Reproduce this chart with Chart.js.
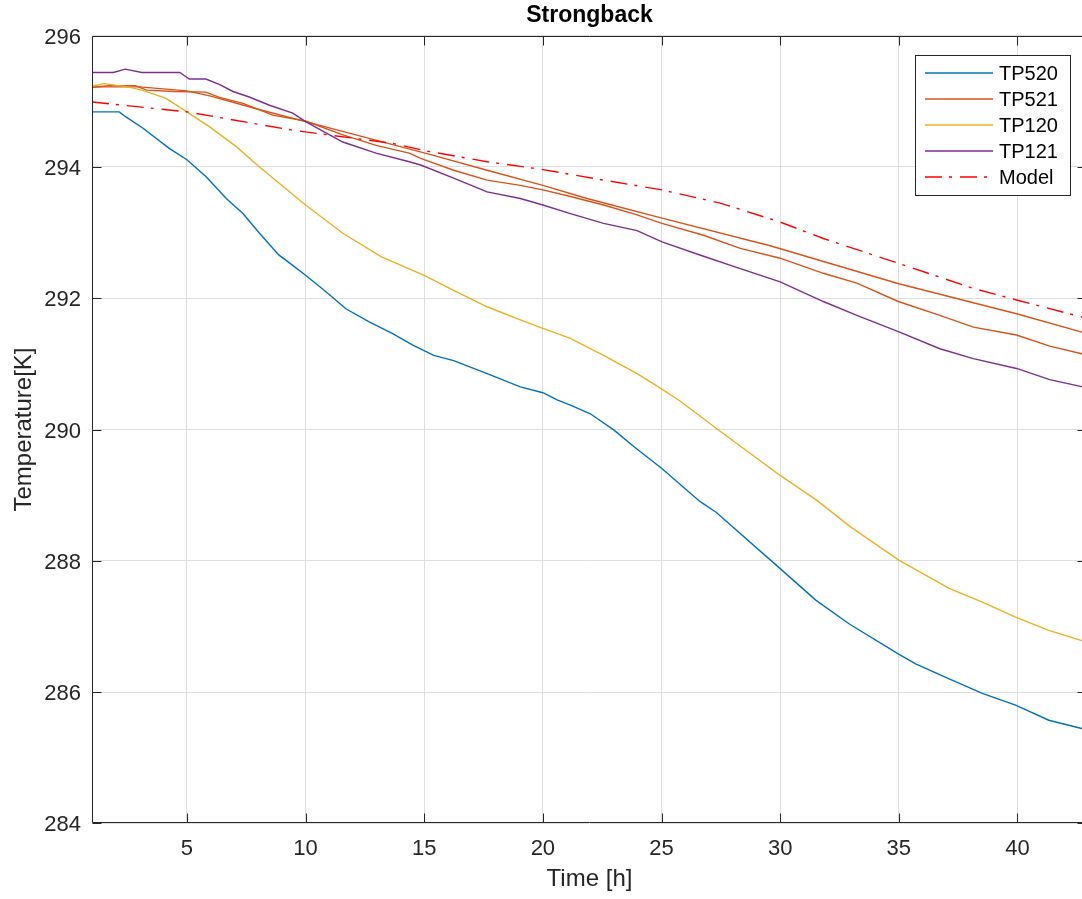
<!DOCTYPE html>
<html>
<head>
<meta charset="utf-8">
<title>Strongback</title>
<script src="https://cdn.jsdelivr.net/npm/chart.js@4/dist/chart.umd.min.js"></script>
<style>
  html, body { margin: 0; padding: 0; background: #ffffff; overflow: hidden; }
  #wrap { width: 1087px; height: 899px; }
</style>
</head>
<body>
<div id="wrap"><canvas id="chart" width="1087" height="899"></canvas></div>
<script>
// Axis tick values
const timeTicks = [5, 10, 15, 20, 25, 30, 35, 40];
const tempTicks = [284, 286, 288, 290, 292, 294, 296];

// Measured sensor temperatures [K] against time [h]
const tp520Time = [1.0, 2.15, 2.4, 3.15, 4.27, 5.0, 5.81, 6.66, 7.36, 8.06, 8.87, 9.46, 10.0, 10.86, 11.7, 12.68, 13.67, 14.5, 15.4, 16.24, 17.65, 19.05, 20.0, 20.6, 21.16, 22.0, 23.0, 23.83, 25.0, 26.63, 27.3, 30.0, 31.5, 32.9, 34.94, 35.71, 37.12, 38.52, 39.92, 41.32, 42.75];
const tp520Temp = [294.84, 294.84, 294.77, 294.59, 294.28, 294.11, 293.85, 293.52, 293.29, 292.99, 292.66, 292.50, 292.35, 292.10, 291.84, 291.64, 291.46, 291.29, 291.13, 291.05, 290.85, 290.65, 290.56, 290.45, 290.37, 290.24, 289.99, 289.74, 289.41, 288.90, 288.74, 287.88, 287.40, 287.04, 286.59, 286.43, 286.20, 285.98, 285.80, 285.57, 285.44];

const tp521Time = [1.0, 1.7, 2.83, 3.3, 4.48, 5.8, 6.37, 7.36, 8.62, 10.0, 11.57, 12.97, 14.37, 14.85, 16.24, 17.65, 19.05, 20.0, 21.16, 22.56, 23.97, 25.02, 26.77, 28.32, 30.0, 31.82, 33.23, 34.98, 36.73, 38.14, 39.96, 41.36, 42.75];
const tp521Temp = [295.21, 295.24, 295.24, 295.17, 295.15, 295.14, 295.06, 294.97, 294.79, 294.70, 294.49, 294.33, 294.21, 294.13, 293.95, 293.80, 293.72, 293.65, 293.55, 293.42, 293.27, 293.14, 292.96, 292.76, 292.61, 292.38, 292.23, 291.95, 291.74, 291.56, 291.44, 291.27, 291.15];

// Smoothed TP521 trace (drawn without a key entry)
const tp521SmoothTime = [1.0, 3.0, 5.0, 6.0, 8.0, 10.0, 12.0, 15.35, 17.65, 20.0, 21.86, 25.02, 29.58, 35.0, 40.0, 42.75];
const tp521SmoothTemp = [295.22, 295.22, 295.16, 295.08, 294.88, 294.69, 294.50, 294.18, 293.95, 293.72, 293.52, 293.22, 292.80, 292.22, 291.76, 291.48];

const tp120Time = [1.0, 1.5, 2.5, 3.1, 4.1, 5.0, 5.96, 7.08, 8.06, 10.0, 11.57, 13.2, 15.0, 16.24, 17.65, 19.05, 20.0, 21.16, 22.56, 23.97, 25.0, 25.72, 26.9, 27.3, 30.0, 31.55, 32.95, 35.0, 37.12, 38.52, 39.92, 41.32, 42.75];
const tp120Temp = [295.23, 295.27, 295.22, 295.17, 295.05, 294.84, 294.61, 294.31, 294.00, 293.42, 292.99, 292.63, 292.35, 292.12, 291.87, 291.67, 291.54, 291.39, 291.13, 290.85, 290.62, 290.45, 290.13, 290.02, 289.30, 288.92, 288.52, 288.01, 287.58, 287.37, 287.14, 286.94, 286.78];

const tp121Time = [1.0, 1.9, 2.4, 3.1, 4.7, 5.1, 5.8, 6.36, 6.94, 7.6, 8.48, 9.46, 10.0, 11.57, 12.97, 14.37, 14.85, 16.24, 17.65, 19.05, 20.0, 21.16, 22.56, 23.97, 25.02, 26.77, 28.32, 30.0, 31.82, 33.23, 34.98, 36.73, 38.14, 39.96, 41.36, 42.75];
const tp121Temp = [295.44, 295.44, 295.49, 295.44, 295.44, 295.34, 295.34, 295.26, 295.15, 295.07, 294.94, 294.82, 294.69, 294.38, 294.21, 294.08, 294.03, 293.83, 293.62, 293.52, 293.42, 293.29, 293.14, 293.03, 292.86, 292.64, 292.45, 292.25, 291.95, 291.74, 291.49, 291.23, 291.08, 290.93, 290.76, 290.65];

// Model prediction
const modelTime = [1.0, 5.0, 9.46, 13.67, 15.0, 17.65, 20.0, 22.56, 25.02, 27.47, 28.53, 30.0, 31.82, 35.0, 38.14, 40.0, 42.75];
const modelTemp = [294.99, 294.84, 294.56, 294.36, 294.25, 294.08, 293.96, 293.80, 293.65, 293.45, 293.33, 293.16, 292.91, 292.53, 292.15, 291.97, 291.71];

const pairs = (ts, vs) => ts.map((t, i) => ({ x: t, y: vs[i] }));

const AXIS_COLOR = '#262626';
const FONT = '"Liberation Sans", Arial, Helvetica, sans-serif';
const LINE_W = 1.4;
const MODEL_DASH = [17, 7, 3, 8];

// Entries shown in the key, in display order
const keyItems = [];

function series(label, ts, vs, color, order, opts) {
  const o = opts || {};
  const ds = {
    label: label,
    data: pairs(ts, vs),
    borderColor: color,
    backgroundColor: color,
    borderWidth: LINE_W,
    borderDash: o.dash || [],
    pointRadius: 0,
    pointHoverRadius: 0,
    fill: false,
    tension: 0,
    order: order
  };
  if (o.key !== false) keyItems.push({ label: label, color: color, dash: o.dash || [] });
  return ds;
}

const datasets = [
  series('TP520', tp520Time, tp520Temp, '#0072BD', 6),
  series('TP521', tp521Time, tp521Temp, '#D95319', 5),
  series('TP521 smoothed', tp521SmoothTime, tp521SmoothTemp, '#D95319', 4, { key: false }),
  series('TP120', tp120Time, tp120Temp, '#EDB120', 3),
  series('TP121', tp121Time, tp121Temp, '#7E2F8E', 2),
  series('Model', modelTime, modelTemp, '#FF0000', 1, { dash: MODEL_DASH })
];

// Box around the axes with inward tick marks on all four sides
const axesBox = {
  id: 'axesBox',
  afterDatasetsDraw(chart) {
    const { ctx, chartArea: a, scales } = chart;
    const L = Math.round(a.left) + 0.5, R = Math.round(a.right) - 0.5;
    const T = Math.round(a.top) + 0.5, B = Math.round(a.bottom) - 0.5;
    const len = 9;
    ctx.save();
    ctx.strokeStyle = AXIS_COLOR;
    ctx.lineWidth = 1;
    ctx.setLineDash([]);
    ctx.beginPath();
    ctx.rect(L, T, R - L, B - T);
    timeTicks.forEach(v => {
      const x = Math.round(scales.x.getPixelForValue(v)) + 0.5;
      ctx.moveTo(x, B); ctx.lineTo(x, B - len);
      ctx.moveTo(x, T); ctx.lineTo(x, T + len);
    });
    tempTicks.forEach(v => {
      const y = Math.round(scales.y.getPixelForValue(v)) + 0.5;
      ctx.moveTo(L, y); ctx.lineTo(L + len, y);
      ctx.moveTo(R, y); ctx.lineTo(R - len, y);
    });
    ctx.stroke();
    ctx.restore();
  }
};

// Boxed key in the upper right of the axes
const keyBox = {
  id: 'keyBox',
  afterDraw(chart) {
    const { ctx } = chart;
    const x0 = 915.5, y0 = 55.5, w = 155, h = 140;
    const rowH = 26.1, firstRow = 72.7;
    ctx.save();
    ctx.setLineDash([]);
    ctx.fillStyle = '#ffffff';
    ctx.fillRect(x0, y0, w, h);
    ctx.strokeStyle = AXIS_COLOR;
    ctx.lineWidth = 1;
    ctx.strokeRect(x0, y0, w, h);
    ctx.font = '20px ' + FONT;
    ctx.textBaseline = 'middle';
    ctx.textAlign = 'left';
    keyItems.forEach((item, i) => {
      const y = Math.round(firstRow + i * rowH);
      ctx.save();
      ctx.strokeStyle = item.color;
      ctx.lineWidth = LINE_W;
      ctx.setLineDash(item.dash);
      ctx.beginPath();
      ctx.moveTo(925, y);
      ctx.lineTo(993, y);
      ctx.stroke();
      ctx.restore();
      ctx.fillStyle = '#000000';
      ctx.fillText(item.label, 999, y + 1);
    });
    ctx.restore();
  }
};

new Chart(document.getElementById('chart'), {
  type: 'line',
  data: { datasets: datasets },
  plugins: [axesBox, keyBox],
  options: {
    responsive: false,
    animation: false,
    devicePixelRatio: 1,
    layout: { padding: 0 },
    plugins: {
      legend: { display: false },
      tooltip: { enabled: false },
      title: {
        display: true,
        text: 'Strongback',
        fullSize: false,
        color: '#000000',
        font: { family: FONT, size: 23, weight: 'bold', lineHeight: 1.2 },
        padding: { top: 2, bottom: 6.1 }
      }
    },
    scales: {
      x: {
        type: 'linear',
        min: 1,
        max: 42.93,
        afterBuildTicks: s => { s.ticks = timeTicks.map(v => ({ value: v })); },
        afterFit: s => { s.height = 75.7; },
        grid: { color: '#dfdfdf', lineWidth: 1, drawTicks: false },
        border: { display: false },
        ticks: {
          color: AXIS_COLOR,
          padding: 12,
          maxRotation: 0,
          autoSkip: false,
          font: { family: FONT, size: 22 }
        },
        title: {
          display: true,
          text: 'Time [h]',
          color: AXIS_COLOR,
          font: { family: FONT, size: 24, lineHeight: 1.2 },
          padding: { top: 0, bottom: 5 }
        }
      },
      y: {
        type: 'linear',
        min: 284,
        max: 296,
        afterBuildTicks: s => { s.ticks = tempTicks.map(v => ({ value: v })); },
        afterFit: s => { s.width = 92; },
        grid: { color: '#dfdfdf', lineWidth: 1, drawTicks: false },
        border: { display: false },
        ticks: {
          color: AXIS_COLOR,
          padding: 11,
          labelOffset: 2,
          autoSkip: false,
          font: { family: FONT, size: 22 }
        },
        title: {
          display: true,
          text: 'Temperature[K]',
          color: AXIS_COLOR,
          font: { family: FONT, size: 24, lineHeight: 1.2 },
          padding: { top: 10, bottom: 0 }
        }
      }
    }
  }
});
</script>
</body>
</html>
